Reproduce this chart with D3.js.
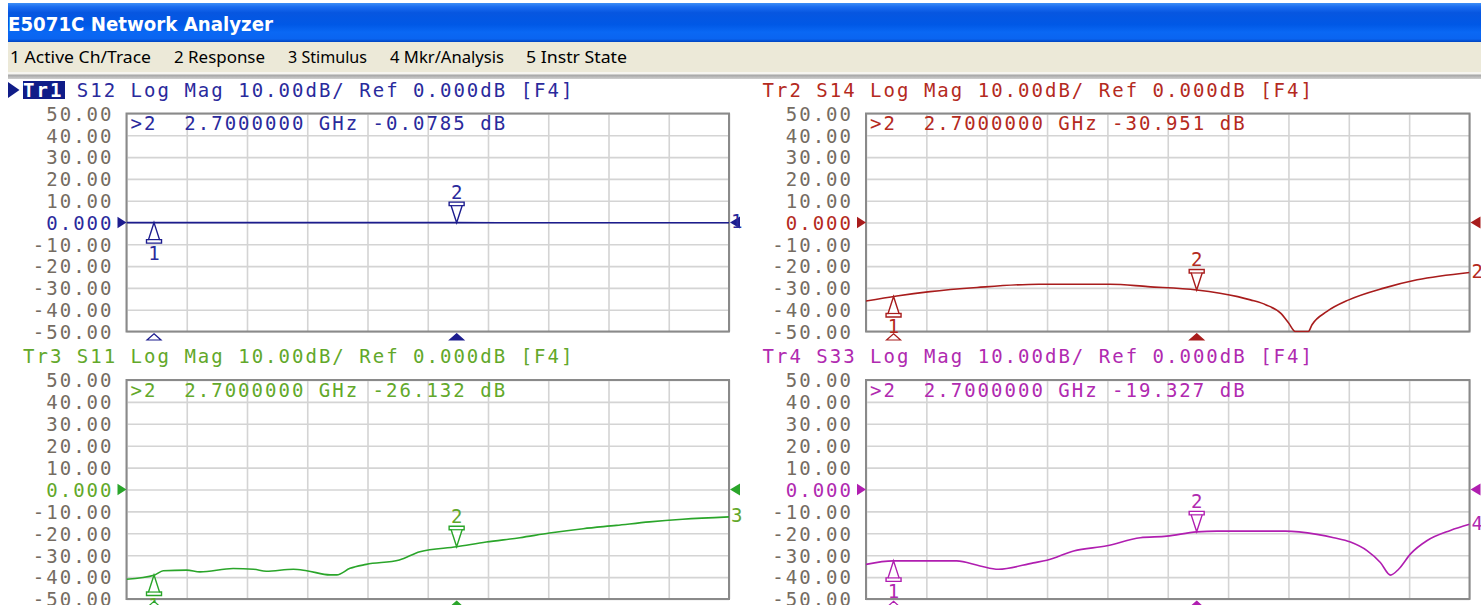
<!DOCTYPE html>
<html>
<head>
<meta charset="utf-8">
<script src="https://cdn.jsdelivr.net/npm/d3@7"></script>
<style>
  html, body { margin: 0; padding: 0; background: #ffffff; overflow: hidden; }
  svg { display: block; }
  text { white-space: pre; }
</style>
</head>
<body>
<svg id="chart" width="1481" height="605"></svg>
<script>
// ---------------- DATA ----------------
const windowTitle = "E5071C Network Analyzer";
const menuItems = ["1 Active Ch/Trace", "2 Response", "3 Stimulus", "4 Mkr/Analysis", "5 Instr State"];

const freqStartGHz = 0.3;
const freqStopGHz = 4.68;

const traceNames = ["Tr1", "Tr2", "Tr3", "Tr4"];
const traceParams = ["S12", "S14", "S11", "S33"];
const scaleLabel = "10.00dB";
const refLabel = "0.000dB";

const yTicks = [50, 40, 30, 20, 10, 0, -10, -20, -30, -40, -50];
const yTickLabels = ["50.00", "40.00", "30.00", "20.00", "10.00", "0.000",
                     "-10.00", "-20.00", "-30.00", "-40.00", "-50.00"];

const markerFreqs = [0.5, 2.7];          // marker 1, marker 2 (active)
const markerReadouts = ["-0.0785", "-30.951", "-26.132", "-19.327"];

// Tr1  S12
const s12Freq = [0.3, 1.0, 1.8, 2.7, 3.6, 4.68];
const s12dB   = [-0.05, -0.06, -0.07, -0.0785, -0.09, -0.1];

// Tr2  S14
const s14Freq = [0.3, 0.523, 0.764, 1.106, 1.553, 2.07, 2.345, 2.7, 2.998, 3.09, 3.204, 3.309, 3.366, 3.416, 3.51, 3.537, 3.646, 3.804, 4.058, 4.30, 4.68];
const s14dB   = [-36.0, -33.7, -31.7, -29.8, -28.3, -28.3, -29.4, -30.95, -34.0, -35.5, -37.8, -41.6, -46.0, -50.0, -50.0, -46.9, -40.8, -35.5, -30.1, -26.3, -22.9];

// Tr3  S11
const s11Freq = [0.3, 0.506, 0.567, 0.738, 0.834, 1.075, 1.224, 1.316, 1.513, 1.61, 1.78, 1.829, 1.925, 2.043, 2.284, 2.433, 2.7, 2.915, 3.16, 3.375, 3.62, 3.861, 4.102, 4.343, 4.68];
const s11dB   = [-41.0, -39.0, -37.1, -36.8, -37.6, -36.1, -36.4, -37.3, -36.4, -37.1, -39.0, -39.0, -36.0, -34.2, -32.2, -28.4, -26.13, -24.0, -22.0, -19.9, -17.9, -16.4, -14.8, -13.6, -12.5];

// Tr4  S33
const s33Freq = [0.3, 0.498, 0.716, 0.958, 1.128, 1.261, 1.515, 1.613, 1.807, 2.049, 2.29, 2.483, 2.7, 2.849, 3.344, 3.573, 3.695, 3.816, 3.936, 4.033, 4.107, 4.167, 4.252, 4.373, 4.541, 4.68];
const s33dB   = [-34.2, -32.6, -32.6, -32.6, -34.9, -36.4, -33.5, -32.3, -28.1, -25.7, -22.0, -21.3, -19.33, -19.0, -19.0, -20.5, -22.0, -24.0, -27.9, -33.3, -39.1, -36.3, -29.4, -23.3, -18.7, -15.9];

// ---------------- STYLE / LAYOUT ----------------
const lineColors = ["#1c1c8e", "#a81c1c", "#2aa52a", "#b01eb0"];
const textColors = ["#2a2a9c", "#b42a1e", "#62a82a", "#b02ab0"];
const MONO = "'DejaVu Sans Mono', 'Liberation Mono', monospace";
const CW = 13.45;      // monospace cell width in the original screen font
const FS = 19;

const panelRects = [
  { x0: 126.5, x1: 729,    y0: 113.5, y1: 331.5, hx: 23,    hy: 97 },
  { x0: 866,   x1: 1469.5, y0: 113.5, y1: 331.5, hx: 762.5, hy: 97 },
  { x0: 126.5, x1: 729,    y0: 380,   y1: 599,   hx: 23,    hy: 363 },
  { x0: 866,   x1: 1469.5, y0: 380,   y1: 599,   hx: 762.5, hy: 363 }
];
const menuX = [10, 174, 288, 390, 526];
const menuW = [141, 91, 79, 114, 101];

const traces = [
  { f: s12Freq, v: s12dB },
  { f: s14Freq, v: s14dB },
  { f: s11Freq, v: s11dB },
  { f: s33Freq, v: s33dB }
];

const svg = d3.select("#chart");
const defs = svg.append("defs");

// ---------------- WINDOW CHROME ----------------
const tb = defs.append("linearGradient").attr("id", "titleGrad")
  .attr("x1", 0).attr("y1", 0).attr("x2", 0).attr("y2", 1);
[[0, "#3d8ef6"], [0.1, "#1a6cf0"], [0.25, "#0756e0"], [0.55, "#0058e6"],
 [0.75, "#0a68f4"], [0.92, "#0a64f0"], [1, "#0044c0"]]
  .forEach(([o, c]) => tb.append("stop").attr("offset", o).attr("stop-color", c));

svg.append("rect").attr("x", 8).attr("y", 3).attr("width", 1473).attr("height", 39)
  .attr("fill", "url(#titleGrad)");
svg.append("text").attr("x", 8).attr("y", 30.5)
  .attr("fill", "#ffffff").attr("font-family", "'DejaVu Sans', Verdana, sans-serif")
  .attr("font-weight", "bold").attr("font-size", 20)
  .attr("textLength", 265).attr("lengthAdjust", "spacingAndGlyphs")
  .text(windowTitle);

svg.append("rect").attr("x", 8).attr("y", 42).attr("width", 1473).attr("height", 30)
  .attr("fill", "#ece9d8");
svg.append("rect").attr("x", 8).attr("y", 72).attr("width", 1473).attr("height", 2.5)
  .attr("fill", "#f6f5f0");
const sep = defs.append("linearGradient").attr("id", "sepGrad")
  .attr("x1", 0).attr("y1", 0).attr("x2", 0).attr("y2", 1);
[[0, "#a0a0a0"], [1, "#cfcfcf"]].forEach(([o, c]) => sep.append("stop").attr("offset", o).attr("stop-color", c));
svg.append("rect").attr("x", 8).attr("y", 74.5).attr("width", 1473).attr("height", 4.5)
  .attr("fill", "url(#sepGrad)");

svg.append("g").selectAll("text").data(menuItems).join("text")
  .attr("x", (d, i) => menuX[i]).attr("y", 62.5)
  .attr("font-family", "Tahoma, 'Noto Sans', 'DejaVu Sans', sans-serif")
  .attr("font-size", 16.5).attr("fill", "#000")
  .attr("textLength", (d, i) => menuW[i]).attr("lengthAdjust", "spacingAndGlyphs")
  .text(d => d);

// ---------------- HELPERS ----------------
function monoLen(str) { return str.length * CW - 2; }
function interp(fs, vs, f) {
  const i = Math.max(1, Math.min(fs.length - 1, d3.bisectLeft(fs, f)));
  const t = (f - fs[i - 1]) / (fs[i] - fs[i - 1]);
  return vs[i - 1] + t * (vs[i] - vs[i - 1]);
}

// ---------------- PANELS ----------------
panelRects.forEach((p, k) => {
  const tr = traces[k];
  const lc = lineColors[k], tc = textColors[k];
  const W = p.x1 - p.x0, H = p.y1 - p.y0;
  const x = d3.scaleLinear().domain([freqStartGHz, freqStopGHz]).range([p.x0, p.x1]);
  const y = d3.scaleLinear().domain([-50, 50]).range([p.y1, p.y0]);
  const g = svg.append("g");

  // header
  const header = `${traceNames[k]} ${traceParams[k]} Log Mag ${scaleLabel}/ Ref ${refLabel} [F4]`;
  if (k === 0) {
    g.append("path").attr("d", d3.line()([[p.hx - 15, p.hy - 15], [p.hx - 15, p.hy + 1], [p.hx - 3.5, p.hy - 7]]) + "Z")
      .attr("fill", "#101c88");
    g.append("rect").attr("x", p.hx).attr("y", p.hy - 16).attr("width", 42).attr("height", 18)
      .attr("fill", "#101c88");
  }
  const ht = g.append("text").attr("x", p.hx).attr("y", p.hy)
    .attr("font-family", MONO).attr("font-size", FS).attr("fill", tc)
    .attr("textLength", monoLen(header)).attr("lengthAdjust", "spacing");
  ht.append("tspan").attr("fill", k === 0 ? "#ffffff" : tc)
    .attr("font-weight", k === 0 ? "bold" : "normal").text(traceNames[k]);
  ht.append("tspan").text(header.slice(traceNames[k].length));

  // grid
  const xGrid = d3.range(11).map(i => freqStartGHz + i * (freqStopGHz - freqStartGHz) / 10);
  g.append("g").attr("transform", `translate(0,${p.y1})`)
    .call(d3.axisBottom(x).tickValues(xGrid).tickSize(-H).tickFormat(""))
    .call(s => {
      s.select(".domain").remove();
      s.selectAll("line").attr("stroke", "#d4d4d4").attr("stroke-width", 1.6);
    });
  g.append("g").attr("transform", `translate(${p.x0},0)`)
    .call(d3.axisLeft(y).tickValues(yTicks).tickSize(-W).tickFormat(""))
    .call(s => {
      s.select(".domain").remove();
      s.selectAll("line").attr("stroke", "#d4d4d4").attr("stroke-width", 1.6);
    });
  g.append("rect").attr("x", p.x0).attr("y", p.y0).attr("width", W).attr("height", H)
    .attr("fill", "none").attr("stroke", "#8a8a8a").attr("stroke-width", 2);

  // y tick labels
  g.append("g").attr("transform", `translate(${p.x0 - 15},0)`)
    .call(d3.axisLeft(y).tickValues(yTicks).tickSize(0).tickPadding(0)
      .tickFormat((d, i) => yTickLabels[i]))
    .call(s => {
      s.select(".domain").remove();
      s.attr("font-family", null).attr("font-size", null);
      s.selectAll("text")
        .attr("font-family", MONO).attr("font-size", FS)
        .attr("dy", "0.36em")
        .attr("fill", d => d === 0 ? tc : "#756c62")
        .attr("textLength", (d, i) => monoLen(yTickLabels[i]))
        .attr("lengthAdjust", "spacing");
    });

  // reference triangles
  const y0 = y(0);
  g.append("path").attr("d", d3.line()([[p.x0 - 9, y0 - 5.8], [p.x0 - 9, y0 + 5.8], [p.x0, y0]]) + "Z")
    .attr("fill", lc);
  g.append("path").attr("d", d3.line()([[p.x1 + 11, y0 - 6], [p.x1 + 11, y0 + 6], [p.x1 + 1, y0]]) + "Z")
    .attr("fill", lc);

  // trace
  const clipId = "clip" + k;
  defs.append("clipPath").attr("id", clipId).append("rect")
    .attr("x", p.x0).attr("y", p.y0 - 1).attr("width", W).attr("height", H + 2);
  const pts = tr.f.map((f, i) => ({ f, v: tr.v[i] }));
  g.append("path").datum(pts)
    .attr("clip-path", `url(#${clipId})`)
    .attr("fill", "none").attr("stroke", lc).attr("stroke-width", 1.6)
    .attr("stroke-linejoin", "round")
    .attr("d", d3.line().curve(d3.curveMonotoneX).x(d => x(d.f)).y(d => y(Math.max(-50, d.v))));

  // trace end number
  const endV = tr.v[tr.v.length - 1];
  g.append("text").attr("x", p.x1 + 2).attr("y", y(endV) + 5.5)
    .attr("font-family", MONO).attr("font-size", FS).attr("fill", tc)
    .text(String(k + 1));

  // markers
  markerFreqs.forEach((mf, mi) => {
    const mx = x(mf);
    const my = y(interp(tr.f, tr.v, mf));
    const active = mi === 1;
    const dir = active ? -1 : 1;  // active marker sits above the trace
    const shape = [[mx, my], [mx + 5.5, my + dir * 17], [mx + 7.5, my + dir * 17], [mx + 7.5, my + dir * 20.5],
                   [mx - 7.5, my + dir * 20.5], [mx - 7.5, my + dir * 17], [mx - 5.5, my + dir * 17]];
    g.append("path").attr("d", d3.line()(shape) + "Z")
      .attr("fill", "#ffffff").attr("stroke", lc).attr("stroke-width", 1.4);
    g.append("path").attr("d", d3.line()([[mx - 5.5, my + dir * 17], [mx + 5.5, my + dir * 17]]))
      .attr("stroke", lc).attr("stroke-width", 1.2);
    g.append("text").attr("x", mx).attr("y", active ? my - 23.5 : my + 37)
      .attr("text-anchor", "middle")
      .attr("font-family", MONO).attr("font-size", FS).attr("fill", tc)
      .text(String(mi + 1));
    // stimulus indicator below the grid
    g.append("path").attr("d", d3.line()([[mx, p.y1 + 2.3], [mx + 7, p.y1 + 8.5], [mx - 7, p.y1 + 8.5]]) + "Z")
      .attr("fill", active ? lc : "#ffffff").attr("stroke", lc).attr("stroke-width", 1.2);
  });

  // marker readout
  const readout = `>2  ${markerFreqs[1].toFixed(7)} GHz ${markerReadouts[k]} dB`;
  g.append("text").attr("x", p.x0 + 4).attr("y", p.y0 + 16.5)
    .attr("xml:space", "preserve")
    .attr("font-family", MONO).attr("font-size", FS).attr("fill", tc)
    .attr("textLength", monoLen(readout)).attr("lengthAdjust", "spacing")
    .text(readout);
});
</script>
</body>
</html>
